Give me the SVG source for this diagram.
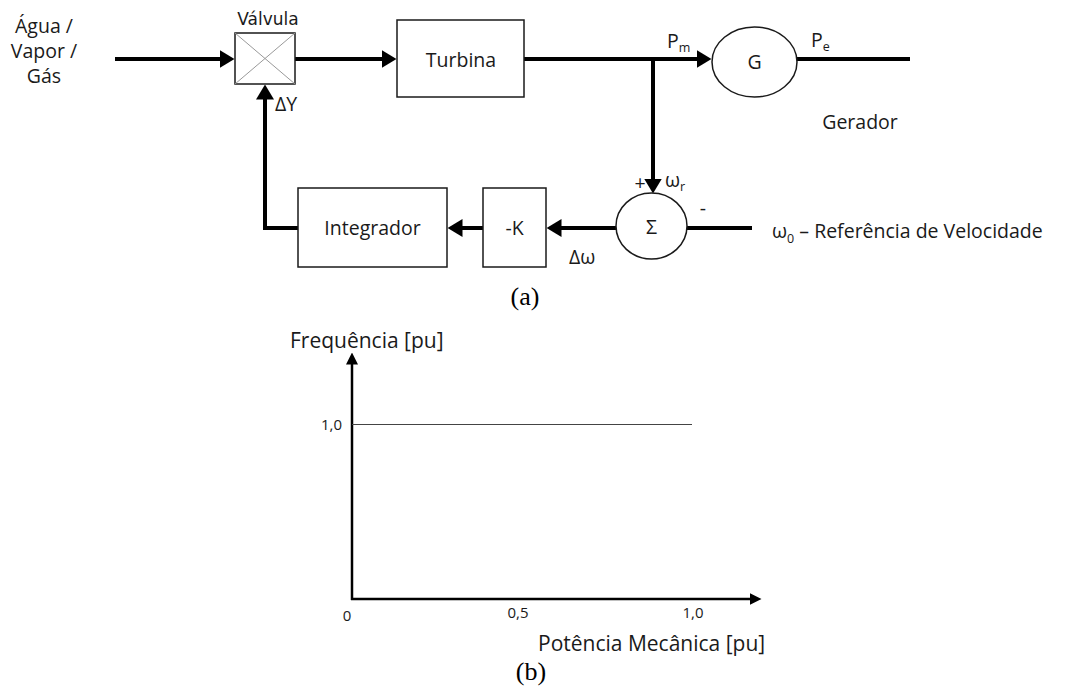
<svg xmlns="http://www.w3.org/2000/svg" width="1065" height="686" viewBox="0 0 1065 686">
<style>
.lbl{font-family:"Open Sans","Liberation Sans",sans-serif;font-size:19.5px;fill:#1a1a1a}
.big{font-size:21px}
.sm{font-family:"Open Sans","Liberation Sans",sans-serif;font-size:15px;fill:#1a1a1a}
.sub{font-size:12.5px}
.cap{font-family:"Liberation Serif",serif;font-size:26px;fill:#000}
.box{fill:#fff;stroke:#1a1a1a;stroke-width:1.5}
.wire{fill:none;stroke:#000;stroke-width:4}
.axis{fill:none;stroke:#000;stroke-width:2.5}
</style>
<defs>
<marker id="ah" viewBox="0 -9 15 18" refX="0.5" refY="0" markerUnits="userSpaceOnUse" markerWidth="15" markerHeight="18" orient="auto"><path d="M0,-9 L15,0 L0,9 z" fill="#000"/></marker>
<marker id="ax" viewBox="0 -6 12 12" refX="0.5" refY="0" markerUnits="userSpaceOnUse" markerWidth="12" markerHeight="12" orient="auto"><path d="M0,-6 L12,0 L0,6 z" fill="#000"/></marker>
</defs>
<g id="connectors">
<line class="wire" x1="115" y1="59" x2="220" y2="59" marker-end="url(#ah)"/>
<line class="wire" x1="295" y1="59" x2="382" y2="59" marker-end="url(#ah)"/>
<line class="wire" x1="524" y1="59" x2="697" y2="59" marker-end="url(#ah)"/>
<line class="wire" x1="797" y1="59" x2="910" y2="59"/>
<line class="wire" x1="653" y1="57" x2="653" y2="179" marker-end="url(#ah)"/>
<line class="wire" x1="687" y1="228" x2="752" y2="228"/>
<line class="wire" x1="616" y1="228" x2="561" y2="228" marker-end="url(#ah)"/>
<line class="wire" x1="483" y1="228" x2="462" y2="228" marker-end="url(#ah)"/>
<polyline class="wire" points="298,228 265,228 265,99" marker-end="url(#ah)"/>
</g>
<g id="source">
<text class="lbl" text-anchor="middle" font-size="17"><tspan x="44" y="33">Água /</tspan><tspan x="44" y="58">Vapor /</tspan><tspan x="44" y="83">Gás</tspan></text>
</g>
<g id="valvula">
<rect class="box" x="235" y="33" width="60" height="51"/>
<line x1="235" y1="33" x2="295" y2="84" stroke="#999" stroke-width="1"/>
<line x1="295" y1="33" x2="235" y2="84" stroke="#999" stroke-width="1"/>
<text x="268" y="25" text-anchor="middle" font-family="DejaVu Sans,sans-serif" font-size="17" fill="#1a1a1a">Válvula</text>
<text class="lbl" x="275" y="111" font-size="18">ΔY</text>
</g>
<g id="turbina">
<rect class="box" x="397" y="20" width="127" height="77"/>
<text class="lbl" x="461" y="67" text-anchor="middle" font-size="20">Turbina</text>
</g>
<g id="gerador">
<ellipse class="box" cx="754.5" cy="62" rx="42.5" ry="35"/>
<text class="lbl" x="754.5" y="69" text-anchor="middle" font-size="20">G</text>
<text class="lbl" x="667" y="48">P<tspan class="sub" dy="4">m</tspan></text>
<text class="lbl" x="811" y="47">P<tspan class="sub" dy="4">e</tspan></text>
<text class="lbl" x="860" y="129" text-anchor="middle">Gerador</text>
</g>
<g id="somador">
<ellipse class="box" cx="651.5" cy="226" rx="35.5" ry="33"/>
<text class="lbl" x="651.5" y="234" text-anchor="middle" font-size="21">Σ</text>
<text class="lbl" x="640" y="190" text-anchor="middle">+</text>
<text class="lbl" x="665" y="187" font-size="20">ω<tspan class="sub" dy="4">r</tspan></text>
<text class="lbl" x="703" y="215" text-anchor="middle">-</text>
<text class="lbl" x="569" y="264" font-size="20">Δω</text>
<text class="lbl" x="772" y="238" font-size="21">ω<tspan class="sub" dy="5">0</tspan><tspan dy="-5"> – Referência de Velocidade</tspan></text>
</g>
<g id="ganho">
<rect class="box" x="483" y="188" width="63" height="79"/>
<text class="lbl" x="514.5" y="235" text-anchor="middle" font-size="20">-K</text>
</g>
<g id="integrador">
<rect class="box" x="298" y="188" width="149" height="79"/>
<text class="lbl" x="372.5" y="235" text-anchor="middle" font-size="20.5">Integrador</text>
</g>
<text class="cap" x="525" y="305" text-anchor="middle">(a)</text>
<g id="grafico">
<line class="axis" x1="352" y1="600" x2="352" y2="364" marker-end="url(#ax)"/>
<line class="axis" x1="351" y1="599" x2="750" y2="599" marker-end="url(#ax)"/>
<line x1="352" y1="424.5" x2="692" y2="424.5" stroke="#444" stroke-width="1"/>
<text class="lbl big" x="290" y="348">Frequência [pu]</text>
<text class="sm" x="342" y="430" text-anchor="end">1,0</text>
<text class="sm" x="347" y="621" text-anchor="middle">0</text>
<text class="sm" x="518" y="618" text-anchor="middle">0,5</text>
<text class="sm" x="693" y="618" text-anchor="middle">1,0</text>
<text class="lbl big" x="538" y="651">Potência Mecânica [pu]</text>
</g>
<text class="cap" x="531" y="680" text-anchor="middle">(b)</text>
</svg>
